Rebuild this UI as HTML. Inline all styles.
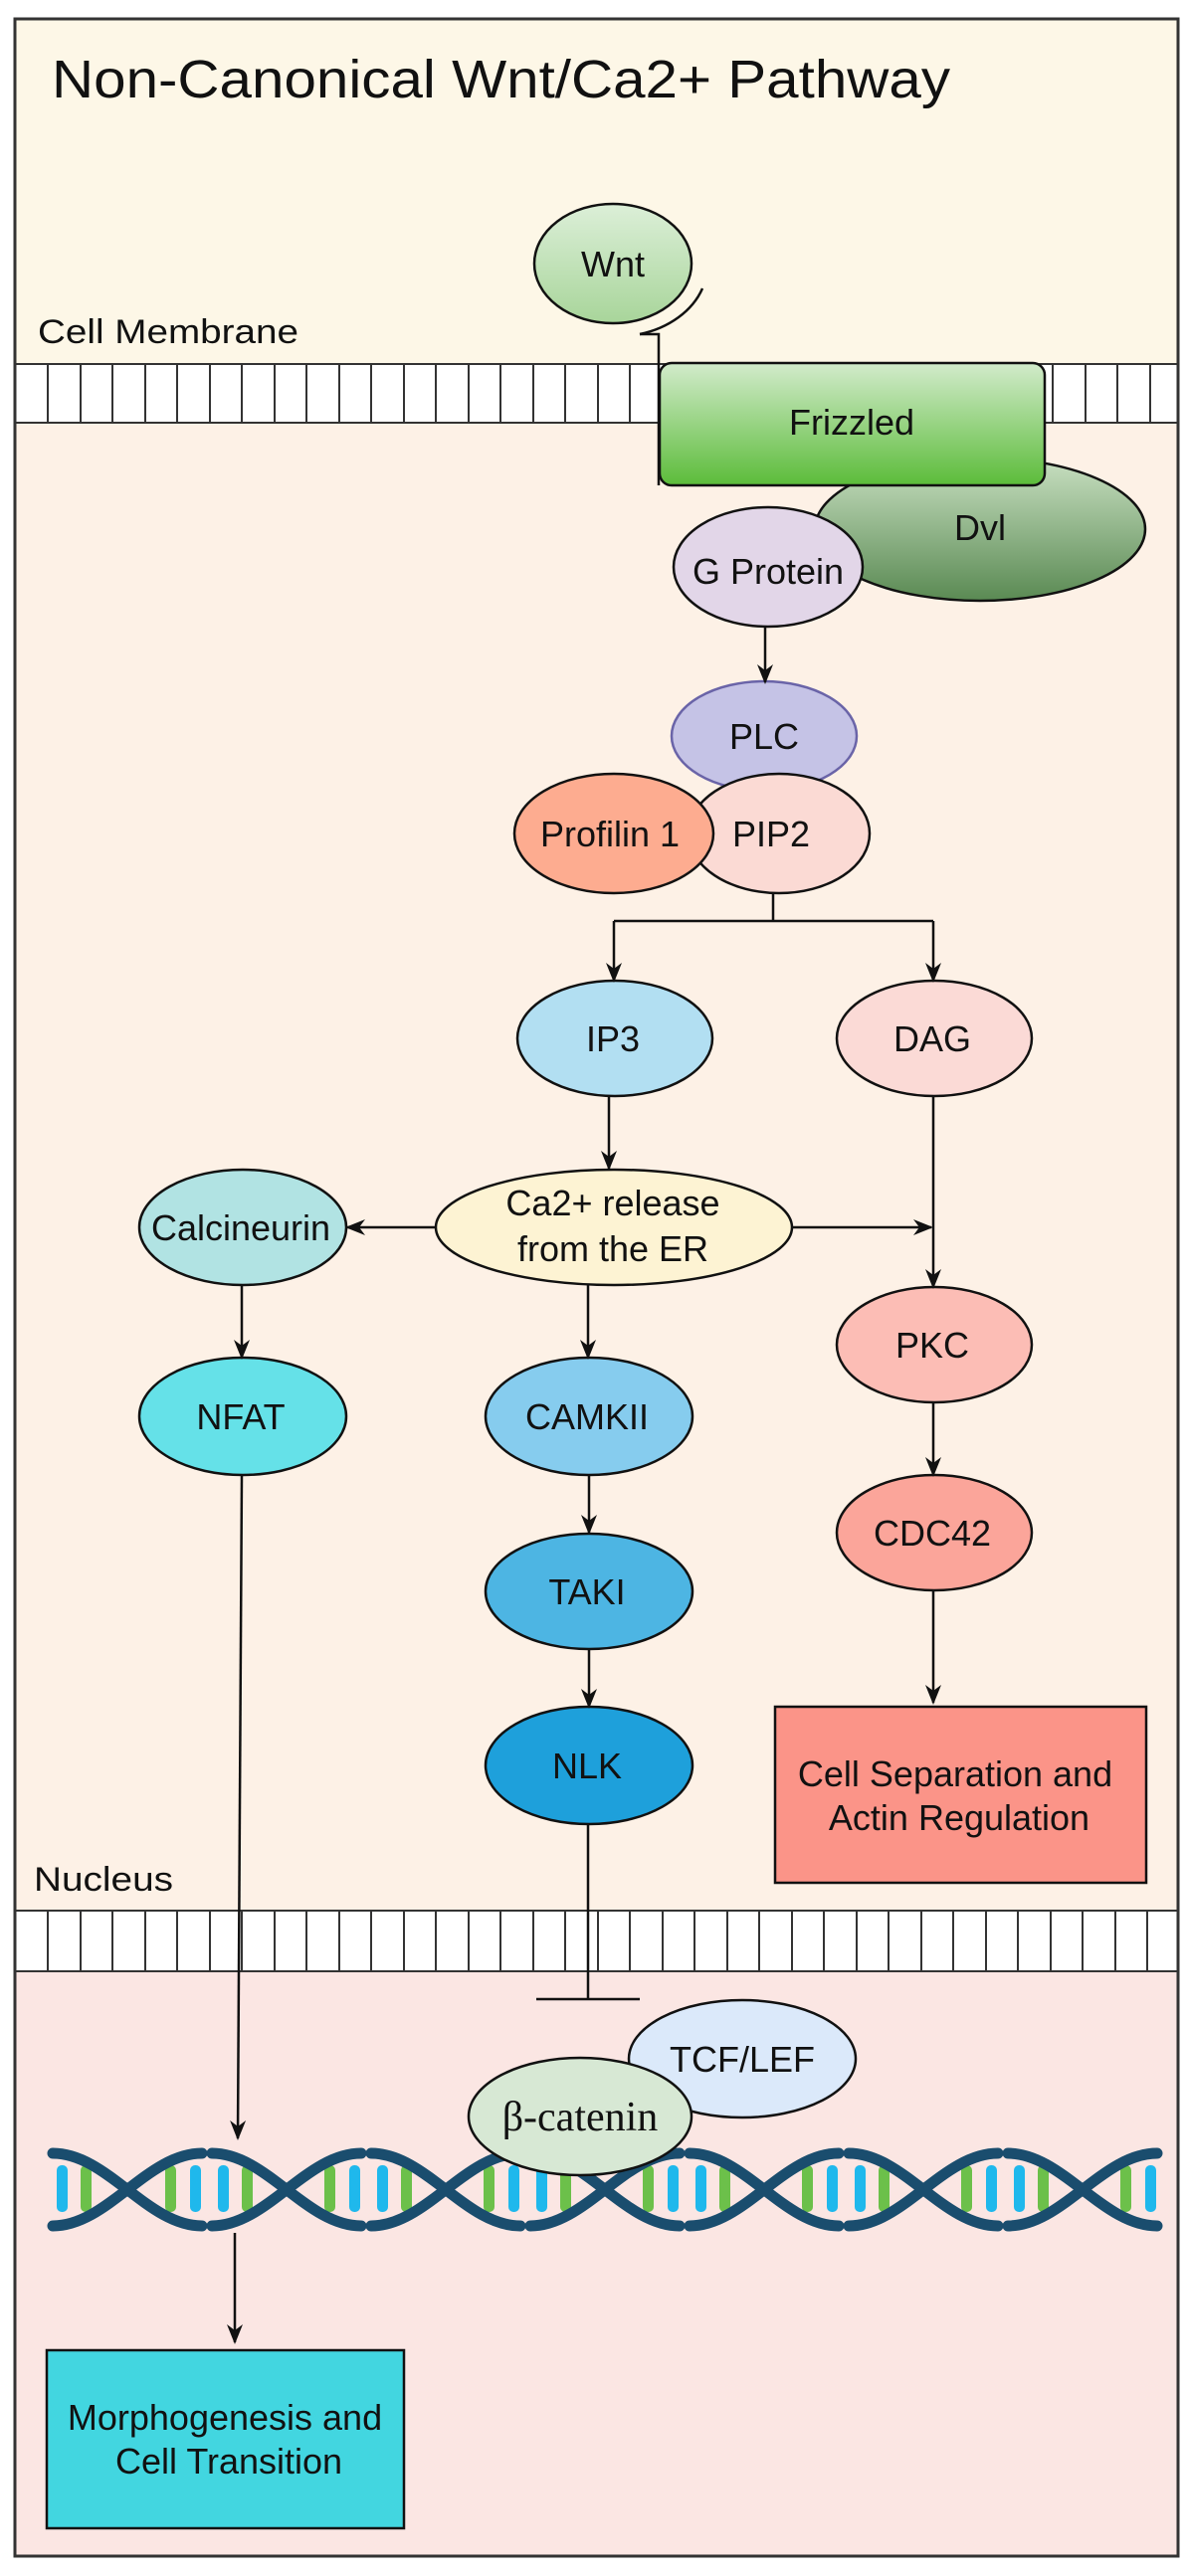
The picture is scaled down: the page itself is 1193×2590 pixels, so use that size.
<!DOCTYPE html>
<html><head><meta charset="utf-8"><style>
html,body{margin:0;padding:0;background:#fff;}
svg{display:block;}
text{font-family:"Liberation Sans",Arial,sans-serif;fill:#111;}
</style></head><body>
<svg width="1193" height="2590" viewBox="0 0 1193 2590" xmlns="http://www.w3.org/2000/svg">
<defs>
<linearGradient id="gw" x1="0" y1="0" x2="0" y2="1"><stop offset="0" stop-color="#dcefd8"/><stop offset="1" stop-color="#a8d59a"/></linearGradient>
<linearGradient id="gf" x1="0" y1="0" x2="0" y2="1"><stop offset="0" stop-color="#d2ebcb"/><stop offset="1" stop-color="#5cbc3a"/></linearGradient>
<linearGradient id="gd" x1="0" y1="0" x2="0" y2="1"><stop offset="0" stop-color="#c9e0c2"/><stop offset="1" stop-color="#5a8a53"/></linearGradient>
<marker id="ar" viewBox="0 0 20 20" refX="18" refY="10" markerWidth="20" markerHeight="20" markerUnits="userSpaceOnUse" orient="auto"><path d="M0,2 L20,10 L0,18 L6,10 Z" fill="#111"/></marker>
<clipPath id="dc"><rect x="40" y="2140" width="1135" height="120"/></clipPath>
</defs>
<rect x="0" y="0" width="1193" height="2590" fill="#fff"/>
<rect x="15" y="19" width="1169" height="348" fill="#fdf7e7"/>
<rect x="15" y="425" width="1169" height="1497" fill="#fdf1e6"/>
<rect x="15" y="1982" width="1169" height="588" fill="#fbe6e3"/>
<g stroke="#333" stroke-width="2">
<rect x="15" y="366" width="1169" height="59" fill="#fff"/>
<rect x="15" y="1921" width="1169" height="61" fill="#fff"/>
</g>
<g stroke="#333" stroke-width="2">
<path d="M48,366V425M81,366V425M113,366V425M146,366V425M178,366V425M211,366V425M243,366V425M276,366V425M308,366V425M341,366V425M373,366V425M406,366V425M438,366V425M471,366V425M503,366V425M536,366V425M568,366V425M601,366V425M633,366V425M1058,366V425M1091,366V425M1123,366V425M1156,366V425"/>
<path d="M48,1921V1982M81,1921V1982M113,1921V1982M146,1921V1982M178,1921V1982M211,1921V1982M243,1921V1982M276,1921V1982M308,1921V1982M341,1921V1982M373,1921V1982M406,1921V1982M438,1921V1982M471,1921V1982M503,1921V1982M536,1921V1982M568,1921V1982M601,1921V1982M633,1921V1982M666,1921V1982M698,1921V1982M731,1921V1982M763,1921V1982M796,1921V1982M828,1921V1982M861,1921V1982M893,1921V1982M926,1921V1982M958,1921V1982M991,1921V1982M1023,1921V1982M1056,1921V1982M1088,1921V1982M1121,1921V1982M1153,1921V1982"/>
</g>
<rect x="15" y="19" width="1169" height="2551" fill="none" stroke="#333" stroke-width="3"/>

<text x="52" y="98" font-size="54" textLength="903" lengthAdjust="spacingAndGlyphs">Non-Canonical Wnt/Ca2+ Pathway</text>
<text x="38" y="345" font-size="34" textLength="262" lengthAdjust="spacingAndGlyphs">Cell Membrane</text>
<text x="34" y="1901" font-size="34" textLength="140" lengthAdjust="spacingAndGlyphs">Nucleus</text>

<g stroke="#111" stroke-width="2.5">
<ellipse cx="616" cy="265" rx="79" ry="60" fill="url(#gw)"/>
<path d="M706,290 A92,72 0 0 1 643,336" fill="none"/>
<path d="M643,336 H662 V488" fill="none"/>
<ellipse cx="985" cy="532" rx="166" ry="72" fill="url(#gd)"/>
<rect x="663" y="365" width="387" height="123" rx="12" fill="url(#gf)"/>
<ellipse cx="772" cy="570" rx="95" ry="60" fill="#e2d6e8"/>
<ellipse cx="768" cy="740" rx="93" ry="55" fill="#c5c3e6" stroke="#6a64a8"/>
<ellipse cx="783" cy="838" rx="91" ry="60" fill="#fbdad4"/>
<ellipse cx="617" cy="838" rx="100" ry="60" fill="#fdac90"/>
<ellipse cx="618" cy="1044" rx="98" ry="58" fill="#b2dff2"/>
<ellipse cx="939" cy="1044" rx="98" ry="58" fill="#fbdad6"/>
<ellipse cx="617" cy="1234" rx="179" ry="58" fill="#fdf3d3"/>
<ellipse cx="244" cy="1234" rx="104" ry="58" fill="#b1e3e3"/>
<ellipse cx="939" cy="1352" rx="98" ry="58" fill="#fcbdb5"/>
<ellipse cx="244" cy="1424" rx="104" ry="59" fill="#65e1e8"/>
<ellipse cx="592" cy="1424" rx="104" ry="59" fill="#86ccee"/>
<ellipse cx="939" cy="1541" rx="98" ry="58" fill="#fba59a"/>
<ellipse cx="592" cy="1600" rx="104" ry="58" fill="#4db5e3"/>
<ellipse cx="592" cy="1775" rx="104" ry="59" fill="#1ea0db"/>
<rect x="779" y="1716" width="373" height="177" fill="#fb9488"/>
<rect x="47" y="2363" width="359" height="179" fill="#42d6e0"/>
</g>

<g stroke="#111" stroke-width="2.5" fill="none">
<path d="M769,630 V686" marker-end="url(#ar)"/>
<path d="M777,898 V926 M617,926 H938"/>
<path d="M617,926 V986" marker-end="url(#ar)"/>
<path d="M938,926 V986" marker-end="url(#ar)"/>
<path d="M612,1102 V1175" marker-end="url(#ar)"/>
<path d="M438,1234 H349" marker-end="url(#ar)"/>
<path d="M796,1234 H936" marker-end="url(#ar)"/>
<path d="M938,1102 V1294" marker-end="url(#ar)"/>
<path d="M243,1292 V1365" marker-end="url(#ar)"/>
<path d="M591,1292 V1365" marker-end="url(#ar)"/>
<path d="M592,1483 V1541" marker-end="url(#ar)"/>
<path d="M592,1658 V1716" marker-end="url(#ar)"/>
<path d="M938,1410 V1483" marker-end="url(#ar)"/>
<path d="M938,1598 V1712" marker-end="url(#ar)"/>
<path d="M243,1483 L239,2150" marker-end="url(#ar)"/>
<path d="M591,1834 V2010 M539,2010 H643"/>
<path d="M236,2245 V2355" marker-end="url(#ar)"/>
</g>

<ellipse cx="746" cy="2070" rx="114" ry="59" fill="#dbe9fa" stroke="#111" stroke-width="2.5"/>

<g clip-path="url(#dc)">
<g fill="#1fb8ec">
<rect x="57" y="2177" width="11" height="47" rx="5"/>
<rect x="191" y="2177" width="11" height="47" rx="5"/><rect x="219" y="2177" width="11" height="47" rx="5"/>
<rect x="351" y="2177" width="11" height="47" rx="5"/><rect x="379" y="2177" width="11" height="47" rx="5"/>
<rect x="511" y="2177" width="11" height="47" rx="5"/><rect x="539" y="2177" width="11" height="47" rx="5"/>
<rect x="671" y="2177" width="11" height="47" rx="5"/><rect x="699" y="2177" width="11" height="47" rx="5"/>
<rect x="831" y="2177" width="11" height="47" rx="5"/><rect x="859" y="2177" width="11" height="47" rx="5"/>
<rect x="991" y="2177" width="11" height="47" rx="5"/><rect x="1019" y="2177" width="11" height="47" rx="5"/>
<rect x="1151" y="2177" width="11" height="47" rx="5"/>
</g>
<g fill="#6cc04a">
<rect x="81" y="2177" width="11" height="47" rx="5"/>
<rect x="166" y="2177" width="11" height="47" rx="5"/><rect x="243" y="2177" width="11" height="47" rx="5"/>
<rect x="326" y="2177" width="11" height="47" rx="5"/><rect x="403" y="2177" width="11" height="47" rx="5"/>
<rect x="486" y="2177" width="11" height="47" rx="5"/><rect x="563" y="2177" width="11" height="47" rx="5"/>
<rect x="646" y="2177" width="11" height="47" rx="5"/><rect x="723" y="2177" width="11" height="47" rx="5"/>
<rect x="806" y="2177" width="11" height="47" rx="5"/><rect x="883" y="2177" width="11" height="47" rx="5"/>
<rect x="966" y="2177" width="11" height="47" rx="5"/><rect x="1043" y="2177" width="11" height="47" rx="5"/>
<rect x="1126" y="2177" width="11" height="47" rx="5"/>
</g>
<g stroke="#1a4d6e" stroke-width="11" stroke-linecap="round" fill="none">
<path d="M53,2165 C108,2165 148,2238 203,2238 M53,2238 C108,2238 148,2165 203,2165"/>
<path d="M213,2165 C268,2165 308,2238 363,2238 M213,2238 C268,2238 308,2165 363,2165"/>
<path d="M373,2165 C428,2165 468,2238 523,2238 M373,2238 C428,2238 468,2165 523,2165"/>
<path d="M533,2165 C588,2165 628,2238 683,2238 M533,2238 C588,2238 628,2165 683,2165"/>
<path d="M693,2165 C748,2165 788,2238 843,2238 M693,2238 C748,2238 788,2165 843,2165"/>
<path d="M853,2165 C908,2165 948,2238 1003,2238 M853,2238 C908,2238 948,2165 1003,2165"/>
<path d="M1013,2165 C1068,2165 1108,2238 1163,2238 M1013,2238 C1068,2238 1108,2165 1163,2165"/>
</g>
</g>
<ellipse cx="583" cy="2128" rx="112" ry="59" fill="#d7e8d4" stroke="#111" stroke-width="2.5"/>

<g font-size="36" text-anchor="middle">
<text x="616" y="278">Wnt</text>
<text x="856" y="437">Frizzled</text>
<text x="985" y="543">Dvl</text>
<text x="772" y="587">G Protein</text>
<text x="768" y="753">PLC</text>
<text x="775" y="851">PIP2</text>
<text x="613" y="851">Profilin 1</text>
<text x="616" y="1057">IP3</text>
<text x="937" y="1057">DAG</text>
<text x="616" y="1222">Ca2+ release</text>
<text x="616" y="1268">from the ER</text>
<text x="242" y="1247">Calcineurin</text>
<text x="937" y="1365">PKC</text>
<text x="242" y="1437">NFAT</text>
<text x="590" y="1437">CAMKII</text>
<text x="937" y="1554">CDC42</text>
<text x="590" y="1613">TAKI</text>
<text x="590" y="1788">NLK</text>
<text x="960" y="1796">Cell Separation and</text>
<text x="964" y="1840">Actin Regulation</text>
<text x="746" y="2083">TCF/LEF</text>
<text x="226" y="2443">Morphogenesis and</text>
<text x="230" y="2487">Cell Transition</text>
<text x="583" y="2142" style="font-family:'Liberation Serif',serif;font-size:42px;">β-catenin</text>
</g>
</svg>
</body></html>
